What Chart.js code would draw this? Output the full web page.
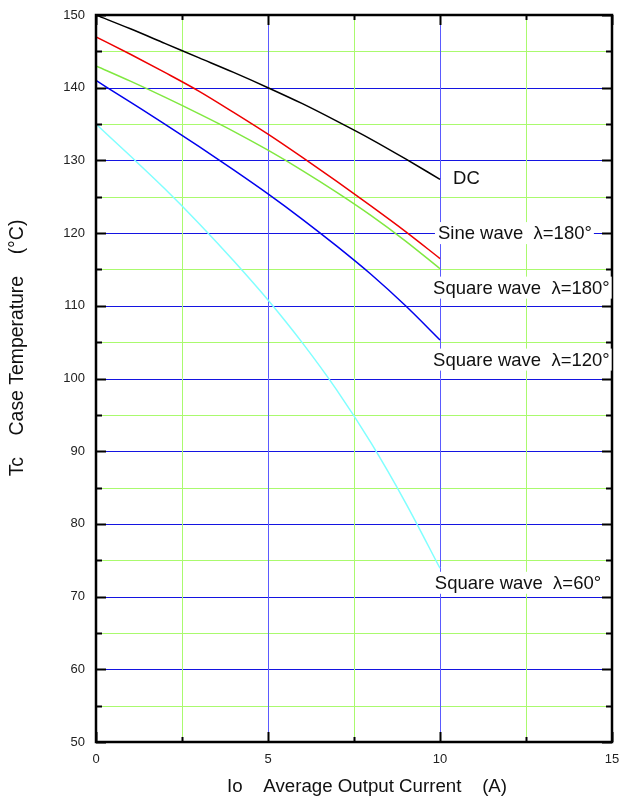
<!DOCTYPE html>
<html>
<head>
<meta charset="utf-8">
<script src="https://cdn.jsdelivr.net/npm/chart.js@4.4.0/dist/chart.umd.min.js"></script>
<style>
  html, body { margin: 0; padding: 0; background: #fff; }
  canvas { display: block; }
</style>
</head>
<body>
<canvas id="TcChart" width="620" height="802"></canvas>
<script>
// values (Io in A, Tc in degC)
const CURRENT_A = [0, 1, 2, 3, 4, 5, 6, 7, 8, 9, 10];
const DC_TC = [150, 148.1, 146.1, 144.1, 142.1, 140, 137.8, 135.4, 132.9, 130.2, 127.4];
const SINE_180_TC = [147, 144.6, 142.1, 139.5, 136.6, 133.6, 130.4, 127.1, 123.7, 120.2, 116.5];
const SQUARE_180_TC = [143, 140.9, 138.7, 136.4, 134.0, 131.4, 128.6, 125.6, 122.4, 118.9, 115.1];
const SQUARE_120_TC = [141, 138, 135, 131.9, 128.7, 125.4, 121.9, 118.2, 114.3, 110, 105.3];
const SQUARE_60_TC = [135, 130.6, 126.1, 121.3, 116.2, 110.8, 104.9, 98.4, 91.1, 82.9, 73.9];

const CURVE_NAMES = ['DC', 'Sine wave  λ=180°', 'Square wave  λ=180°', 'Square wave  λ=120°', 'Square wave  λ=60°'];
const CURVE_COLORS = ['#000000', '#ee0000', '#80e840', '#0000ee', '#80ffff'];

const X_TICK_STEP = 2.5;
const Y_TICK_STEP = 5;

const X_TITLE = 'Io    Average Output Current    (A)';
const Y_TITLE = 'Tc    Case Temperature    (°C)';

const FONT = "'Liberation Sans', Arial, sans-serif";
const H_BLUE = '#1414e1';
const V_BLUE = '#5a5aff';
const GRID_GREEN = '#aafa6e';

// grid under the curves; frame, inward ticks, names and titles on top
const framePlugin = {
   id: 'frame',
   beforeDatasetsDraw(chart) {
      const ctx = chart.ctx;
      const a = chart.chartArea;
      const xs = chart.scales.x;
      const ys = chart.scales.y;

      ctx.save();
      ctx.lineWidth = 1;
      for (let v = ys.min + Y_TICK_STEP; v < ys.max; v += Y_TICK_STEP) {
         const py = Math.round(ys.getPixelForValue(v)) + 0.5;
         ctx.strokeStyle = v % 10 === 0 ? H_BLUE : GRID_GREEN;
         ctx.beginPath();
         ctx.moveTo(a.left, py);
         ctx.lineTo(a.right, py);
         ctx.stroke();
      }
      for (let v = xs.min + X_TICK_STEP; v < xs.max; v += X_TICK_STEP) {
         const px = Math.round(xs.getPixelForValue(v)) + 0.5;
         ctx.strokeStyle = v % 5 === 0 ? V_BLUE : GRID_GREEN;
         ctx.beginPath();
         ctx.moveTo(px, a.top);
         ctx.lineTo(px, a.bottom);
         ctx.stroke();
      }
      ctx.restore();
   },
   afterDatasetsDraw(chart, args, opts) {
      const ctx = chart.ctx;
      const a = chart.chartArea;
      const xs = chart.scales.x;
      const ys = chart.scales.y;

      ctx.save();
      ctx.strokeStyle = '#000';
      ctx.lineWidth = 2;
      ctx.beginPath();
      for (let v = ys.min; v <= ys.max; v += Y_TICK_STEP) {
         const py = Math.round(ys.getPixelForValue(v)) + 0.5;
         const len = v % 10 === 0 ? 10 : 6;
         ctx.moveTo(a.left, py); ctx.lineTo(a.left + len, py);
         ctx.moveTo(a.right, py); ctx.lineTo(a.right - len, py);
      }
      for (let v = xs.min; v <= xs.max; v += X_TICK_STEP) {
         const px = Math.round(xs.getPixelForValue(v)) + 0.5;
         const len = v % 5 === 0 ? 10 : 5;
         ctx.moveTo(px, a.bottom); ctx.lineTo(px, a.bottom - len);
         ctx.moveTo(px, a.top); ctx.lineTo(px, a.top + len);
      }
      ctx.stroke();

      ctx.lineWidth = 2.5;
      ctx.strokeRect(a.left, a.top, a.right - a.left, a.bottom - a.top);

      // curve names with a white box behind
      ctx.font = '18.5px ' + FONT;
      ctx.textBaseline = 'middle';
      ctx.textAlign = 'left';
      CURVE_NAMES.forEach((name, i) => {
         const spot = opts.spots[i];
         const px = xs.getPixelForValue(spot[0]);
         const py = ys.getPixelForValue(spot[1]);
         const w = ctx.measureText(name).width;
         ctx.fillStyle = '#fff';
         ctx.fillRect(px - 3, py - 11, w + 5, 22);
         ctx.fillStyle = '#111';
         ctx.fillText(name, px, py + 1);
      });

      ctx.fillStyle = '#111';
      ctx.textAlign = 'center';
      ctx.font = '18.7px ' + FONT;
      ctx.fillText(X_TITLE, opts.xTitleAt[0], opts.xTitleAt[1]);
      ctx.font = '19.4px ' + FONT;
      ctx.translate(opts.yTitleAt[0], opts.yTitleAt[1]);
      ctx.rotate(-Math.PI / 2);
      ctx.fillText(Y_TITLE, 0, 0);
      ctx.restore();
   }
};

function makeSet(label, data, color) {
   return {
      label: label,
      data: data.map((t, i) => ({ x: CURRENT_A[i], y: t })),
      borderColor: color,
      borderWidth: 1.5,
      pointRadius: 0,
      cubicInterpolationMode: 'monotone',
      fill: false
   };
}

function noEdgePadding(s) {
   s.paddingLeft = 0;
   s.paddingRight = 0;
   s.paddingTop = 0;
   s.paddingBottom = 0;
}

new Chart(document.getElementById('TcChart'), {
   type: 'line',
   data: {
      datasets: [
         makeSet(CURVE_NAMES[0], DC_TC, CURVE_COLORS[0]),
         makeSet(CURVE_NAMES[1], SINE_180_TC, CURVE_COLORS[1]),
         makeSet(CURVE_NAMES[2], SQUARE_180_TC, CURVE_COLORS[2]),
         makeSet(CURVE_NAMES[3], SQUARE_120_TC, CURVE_COLORS[3]),
         makeSet(CURVE_NAMES[4], SQUARE_60_TC, CURVE_COLORS[4])
      ]
   },
   options: {
      responsive: false,
      maintainAspectRatio: false,
      animation: false,
      layout: { padding: { top: 15, right: 8, left: 0, bottom: 0 } },
      plugins: {
         legend: { display: false },
         tooltip: { enabled: false },
         frame: {
            spots: [[10.38, 127.6], [9.94, 120.0], [9.8, 112.5], [9.8, 102.6], [9.85, 71.9]],
            xTitleAt: [367, 787],
            yTitleAt: [18, 348]
         }
      },
      scales: {
         x: {
            type: 'linear',
            min: 0,
            max: 15,
            afterFit: s => { s.height = 60; noEdgePadding(s); },
            border: { display: false },
            grid: { display: false, drawTicks: false },
            ticks: {
               stepSize: X_TICK_STEP,
               autoSkip: false,
               maxRotation: 0,
               padding: 10,
               color: '#222',
               font: { family: FONT, size: 13 },
               callback: v => v % 5 === 0 ? String(v) : ''
            }
         },
         y: {
            type: 'linear',
            min: 50,
            max: 150,
            afterFit: s => { s.width = 96; noEdgePadding(s); },
            border: { display: false },
            grid: { display: false, drawTicks: false },
            ticks: {
               stepSize: Y_TICK_STEP,
               autoSkip: false,
               padding: 11,
               color: '#222',
               font: { family: FONT, size: 13 },
               callback: v => v % 10 === 0 ? String(v) : ''
            }
         }
      }
   },
   plugins: [framePlugin]
});
</script>
</body>
</html>
